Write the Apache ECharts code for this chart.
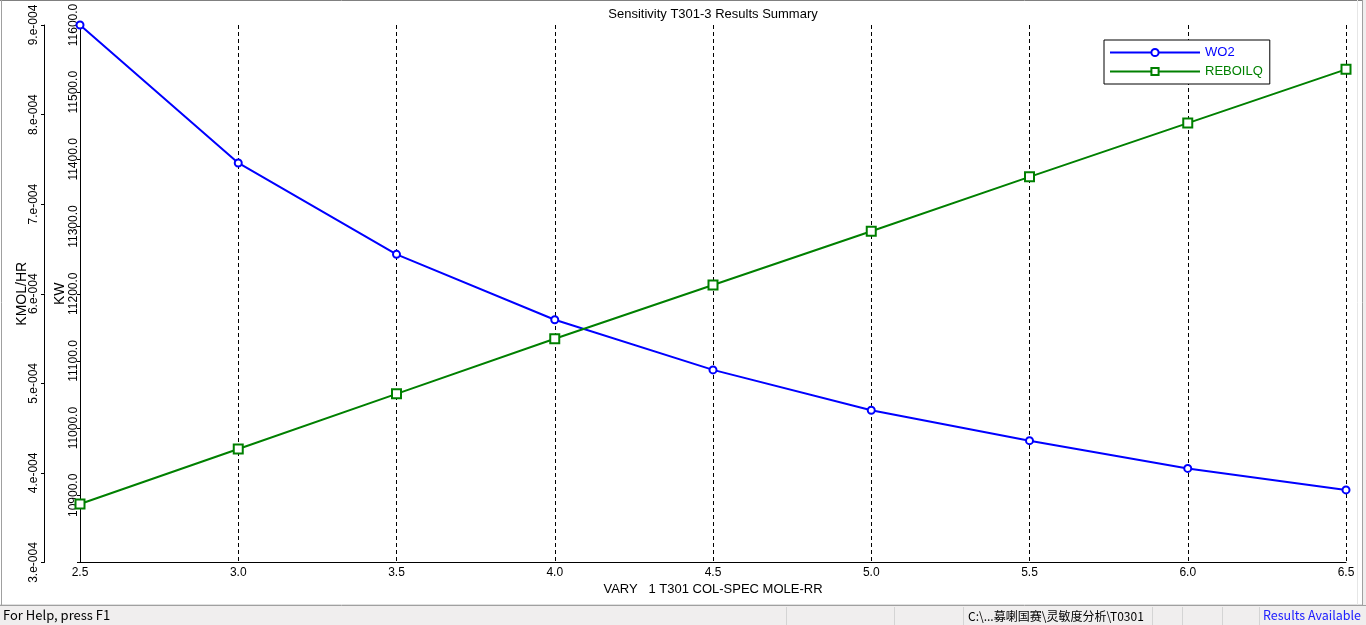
<!DOCTYPE html>
<html>
<head>
<meta charset="utf-8">
<script src="https://cdn.jsdelivr.net/npm/echarts@6/dist/echarts.min.js"></script>
<style>
html,body{margin:0;padding:0;background:#fff;}
#chart{width:1366px;height:625px;}
</style>
</head>
<body>
<div id="chart"></div>
<script>
// ---- data ----
var xValues = [2.5, 3.0, 3.5, 4.0, 4.5, 5.0, 5.5, 6.0, 6.5];
var wo2 = [9.0e-4, 7.46e-4, 6.44e-4, 5.71e-4, 5.15e-4, 4.70e-4, 4.36e-4, 4.05e-4, 3.81e-4];
var reboilq = [10887, 10969, 11051, 11133, 11213, 11293, 11374, 11454, 11534];
var seriesNames = ['WO2', 'REBOILQ'];
var titleText = 'Sensitivity T301-3 Results Summary';
var xName = 'VARY   1 T301 COL-SPEC MOLE-RR';
var yNameOuter = 'KMOL/HR';
var yNameInner = 'KW';
var statusLeft = 'For Help, press F1';
var statusPath = 'C:\\...募喇国赛\\灵敏度分析\\T0301';
var statusRight = 'Results Available';

function pairs(xs, ys) { return xs.map(function (x, i) { return [x, ys[i]]; }); }

var FONT = 'Liberation Sans, Arial, sans-serif';
var BLUE = '#0000ff', GREEN = '#008000';

var chart = echarts.init(document.getElementById('chart'), null, {renderer: 'canvas'});

var sepXs = [786, 894, 963, 1152, 1182, 1222, 1259];
var graphics = [
  {type: 'rect', shape: {x: 0, y: 605, width: 1366, height: 20}, style: {fill: '#f0eeee'}, silent: true},
  {type: 'line', shape: {x1: 0, y1: 604.5, x2: 1366, y2: 604.5}, style: {stroke: '#e0e0e0', lineWidth: 1}, silent: true},
  {type: 'line', shape: {x1: 0, y1: 605.5, x2: 1366, y2: 605.5}, style: {stroke: '#a0a0a0', lineWidth: 1}, silent: true},
  {type: 'line', shape: {x1: 0, y1: 0.5, x2: 1366, y2: 0.5}, style: {stroke: '#808080', lineWidth: 1}, silent: true},
  {type: 'line', shape: {x1: 1.5, y1: 0, x2: 1.5, y2: 605}, style: {stroke: '#a0a0a0', lineWidth: 1}, silent: true},
  {type: 'rect', shape: {x: 1362, y: 0, width: 4, height: 605}, style: {fill: '#f0eeee'}, silent: true},
  {type: 'line', shape: {x1: 1362.5, y1: 0, x2: 1362.5, y2: 605}, style: {stroke: '#a0a0a0', lineWidth: 1}, silent: true},
  {type: 'line', shape: {x1: 1357.5, y1: 0, x2: 1357.5, y2: 605}, style: {stroke: '#e6e6e6', lineWidth: 1}, silent: true},
  {type: 'text', left: 3, top: 609, style: {text: statusLeft, font: '13px "Noto Sans CJK SC", sans-serif', fill: '#000'}, silent: true},
  {type: 'text', left: 968, top: 610, style: {text: statusPath, font: '12px "Noto Sans CJK SC", sans-serif', fill: '#000'}, silent: true},
  {type: 'text', left: 1263, top: 609, style: {text: statusRight, font: '12.5px "Noto Sans CJK SC", sans-serif', fill: '#2020ff'}, silent: true}
];
sepXs.forEach(function (sx) {
  graphics.push({type: 'line', shape: {x1: sx + 0.5, y1: 607, x2: sx + 0.5, y2: 625}, style: {stroke: '#d4d4d4', lineWidth: 1}, silent: true});
});

var option = {
  animation: false,
  backgroundColor: '#ffffff',
  textStyle: {fontFamily: FONT, fontSize: 12, color: '#000'},
  title: {
    text: titleText,
    left: 713, top: 8, textAlign: 'center', padding: 0,
    textStyle: {fontFamily: FONT, fontSize: 13, fontWeight: 'normal', color: '#000'}
  },
  legend: {
    orient: 'vertical',
    left: 1104, top: 40,
    padding: [6, 7, 6, 5],
    itemWidth: 90, itemHeight: 9, itemGap: 6,
    borderColor: '#000', borderWidth: 1, backgroundColor: '#fff',
    itemStyle: {borderWidth: 1},
    data: [
      {name: seriesNames[0], textStyle: {color: BLUE}},
      {name: seriesNames[1], textStyle: {color: GREEN}}
    ],
    textStyle: {fontFamily: FONT, fontSize: 13}
  },
  grid: {left: 80, right: 20, top: 25, bottom: 62.5, containLabel: false},
  xAxis: {
    type: 'value',
    min: 2.5, max: 6.5, interval: 0.5,
    name: xName, nameLocation: 'middle', nameGap: 18,
    nameTextStyle: {fontFamily: FONT, fontSize: 13, color: '#000'},
    axisLine: {show: true, onZero: false, lineStyle: {color: '#000', width: 1}},
    axisTick: {show: false},
    axisLabel: {margin: 4, color: '#000', fontFamily: FONT, fontSize: 12, formatter: function (v) { return v.toFixed(1); }},
    splitLine: {show: true, lineStyle: {color: '#000', width: 1, type: [4, 3]}}
  },
  yAxis: [
    {
      type: 'value', position: 'left', offset: 36,
      min: 3e-4, max: 9e-4, interval: 1e-4,
      name: yNameOuter, nameLocation: 'middle', nameGap: 15, nameMoveOverlap: false,
      nameTextStyle: {fontFamily: FONT, fontSize: 14, color: '#000'},
      axisLine: {show: true, onZero: false, lineStyle: {color: '#000', width: 1}},
      axisTick: {show: true, length: 3, lineStyle: {color: '#000'}},
      axisLabel: {rotate: 90, margin: 4, color: '#000', fontFamily: FONT, fontSize: 12,
        formatter: function (v) { return Math.round(v * 1e4) + '.e-004'; }},
      splitLine: {show: false}
    },
    {
      type: 'value', position: 'left', offset: 0,
      min: 10800, max: 11600, interval: 100,
      name: yNameInner, nameLocation: 'middle', nameGap: 13, nameMoveOverlap: false,
      nameTextStyle: {fontFamily: FONT, fontSize: 14, color: '#000'},
      axisLine: {show: true, onZero: false, lineStyle: {color: '#000', width: 1}},
      axisTick: {show: true, length: 3, lineStyle: {color: '#000'}},
      axisLabel: {rotate: 90, margin: 0, color: '#000', fontFamily: FONT, fontSize: 12,
        formatter: function (v) { return Math.round(v) === 10800 ? '' : v.toFixed(1); }},
      splitLine: {show: false}
    }
  ],
  series: [
    {
      name: seriesNames[0], type: 'line', yAxisIndex: 0,
      data: pairs(xValues, wo2),
      symbol: 'emptyCircle', symbolSize: 7, showAllSymbol: true,
      lineStyle: {color: BLUE, width: 2},
      itemStyle: {color: BLUE, borderWidth: 1},
      z: 3
    },
    {
      name: seriesNames[1], type: 'line', yAxisIndex: 1,
      data: pairs(xValues, reboilq),
      symbol: 'emptyRect', symbolSize: 9, showAllSymbol: true,
      lineStyle: {color: GREEN, width: 2},
      itemStyle: {color: GREEN, borderWidth: 1},
      z: 3
    }
  ],
  graphic: graphics
};
chart.setOption(option);
</script>
</body>
</html>
